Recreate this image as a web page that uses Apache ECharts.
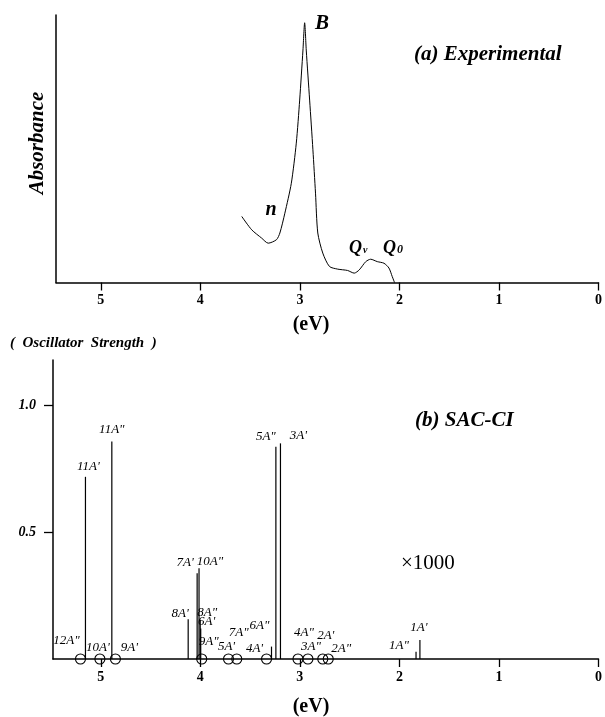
<!DOCTYPE html>
<html>
<head>
<meta charset="utf-8">
<script src="https://cdn.jsdelivr.net/npm/echarts@6/dist/echarts.min.js"></script>
<style>
    html, body { margin: 0; padding: 0; background: #fff; }
    #chart { width: 605px; height: 717px; }
</style>
</head>
<body>
<div id="chart"></div>
<script>
    // (a) experimental absorption curve, eV vs absorbance (arbitrary units)
    var absEV = [3.584, 3.484, 3.384, 3.318, 3.235, 3.201, 3.151, 3.086, 3.036, 3.002,
                 2.969, 2.952, 2.936, 2.902, 2.869, 2.843, 2.820, 2.770, 2.703, 2.620,
                 2.521, 2.454, 2.404, 2.338, 2.289, 2.222, 2.155, 2.105, 2.072, 2.049];
    var absVal = [0.247, 0.197, 0.166, 0.147, 0.160, 0.185, 0.259, 0.371, 0.521, 0.682,
                  0.869, 0.971, 0.869, 0.682, 0.496, 0.334, 0.185, 0.110, 0.060, 0.050,
                  0.045, 0.035, 0.047, 0.078, 0.087, 0.078, 0.072, 0.054, 0.022, 0.000];

    // (b) SAC-CI states with visible oscillator strength
    var stickNames = ["11A'", '11A"', "8A'", "7A'", '10A"', '8A"', "6A'", '6A"', '5A"', "3A'", '1A"', "1A'"];
    var stickEV = [5.154, 4.889, 4.122, 4.032, 4.013, 4.001, 3.996, 3.285, 3.241, 3.195, 1.833, 1.794];
    var stickF = [0.719, 0.858, 0.157, 0.338, 0.358, 0.155, 0.120, 0.049, 0.838, 0.851, 0.029, 0.075];

    // states drawn as circles on the baseline
    var circleNames = ['12A"', "10A'", "9A'", '9A"', "5A'", '7A"', "4A'", '4A"', '3A"', "2A'", '2A"'];
    var circleEV = [5.204, 5.009, 4.853, 3.986, 3.717, 3.634, 3.335, 3.019, 2.919, 2.770, 2.715];

    var xTicks = [0, 1, 2, 3, 4, 5];
    var fTicks = [0.5, 1.0];

    // label placement (pixels from the mark)
    var labelOffsets = {
        "11A'": [3, -10], '11A"': [0, -12], "8A'": [-8, -6], "7A'": [-12, -11],
        '10A"': [11, -7], '8A"': [7, -7], "6A'": [6, -7], '6A"': [-12, -21],
        '5A"': [-10, -10], "3A'": [18, -8], '1A"': [-17, -6], "1A'": [-1, -12],
        '12A"': [-14, -18], "10A'": [-2, -11], "9A'": [14, -11], '9A"': [7, -17],
        "5A'": [-2, -12], '7A"': [2, -26], "4A'": [-12, -10], '4A"': [6, -26],
        '3A"': [3, -12], "2A'": [3, -23], '2A"': [13, -10]
    };

    var serif = '"Liberation Serif", "Times New Roman", serif';

    var curveData = absEV.map(function (e, i) { return [e, absVal[i]]; });
    var stickData = stickEV.map(function (e, i) { return [e, stickF[i]]; });
    var circleData = circleEV.map(function (e, i) { return [e, 0]; });

    function xAxisOf(grid, max) {
        return {
            gridIndex: grid,
            type: 'value',
            min: 0,
            max: max,
            inverse: true,
            interval: 1,
            axisLine: { onZero: false, lineStyle: { color: '#000', width: 1.5 } },
            axisTick: { customValues: xTicks, length: 8, lineStyle: { color: '#000', width: 1.3 } },
            axisLabel: {
                customValues: xTicks,
                margin: 11,
                color: '#000',
                fontFamily: serif,
                fontWeight: 'bold',
                fontSize: 14
            },
            splitLine: { show: false }
        };
    }

    function labelText(name, x, y) {
        var off = labelOffsets[name];
        return {
            type: 'text',
            x: x + off[0],
            y: y + off[1],
            z2: 20,
            style: {
                text: name,
                font: 'italic 13px ' + serif,
                fill: '#000',
                align: 'center',
                verticalAlign: 'middle'
            }
        };
    }

    var myChart = echarts.init(document.getElementById('chart'));
    var options = {
        backgroundColor: '#fff',
        animation: false,
        grid: [
            { left: 56, right: 2, top: 15, height: 267.5 },
            { left: 53, right: 2, top: 360, height: 299 }
        ],
        xAxis: [xAxisOf(0, 5.45), xAxisOf(1, 5.48)],
        yAxis: [{
            gridIndex: 0,
            type: 'value',
            position: 'left',
            min: 0,
            max: 1,
            axisLine: { show: true, onZero: false, lineStyle: { color: '#000', width: 1.5 } },
            axisTick: { show: false },
            axisLabel: { show: false },
            splitLine: { show: false }
        }, {
            gridIndex: 1,
            type: 'value',
            position: 'left',
            min: 0,
            max: 1.18,
            interval: 0.5,
            axisLine: { show: true, onZero: false, lineStyle: { color: '#000', width: 1.5 } },
            axisTick: { customValues: fTicks, length: 9, lineStyle: { color: '#000', width: 1.3 } },
            axisLabel: {
                customValues: fTicks,
                formatter: function (v) { return v.toFixed(1); },
                margin: 17,
                color: '#000',
                fontFamily: serif,
                fontWeight: 'bold',
                fontStyle: 'italic',
                fontSize: 14
            },
            splitLine: { show: false }
        }],
        series: [{
            name: 'Absorbance',
            type: 'line',
            xAxisIndex: 0,
            yAxisIndex: 0,
            data: curveData,
            smooth: 0.25,
            showSymbol: false,
            lineStyle: { color: '#000', width: 1 }
        }, {
            name: 'SAC-CI',
            type: 'custom',
            xAxisIndex: 1,
            yAxisIndex: 1,
            data: stickData,
            renderItem: function (params, api) {
                var bottom = api.coord([api.value(0), 0]);
                var top = api.coord([api.value(0), api.value(1)]);
                return {
                    type: 'group',
                    children: [{
                        type: 'line',
                        shape: { x1: bottom[0], y1: bottom[1], x2: top[0], y2: top[1] },
                        style: { stroke: '#000', lineWidth: 1.2 }
                    }, labelText(stickNames[params.dataIndex], top[0], top[1])]
                };
            }
        }, {
            name: 'weak',
            type: 'custom',
            xAxisIndex: 1,
            yAxisIndex: 1,
            data: circleData,
            z: 3,
            renderItem: function (params, api) {
                var c = api.coord([api.value(0), api.value(1)]);
                return {
                    type: 'group',
                    children: [{
                        type: 'circle',
                        shape: { cx: c[0], cy: c[1], r: 5 },
                        style: { fill: 'none', stroke: '#000', lineWidth: 1.1 }
                    }, labelText(circleNames[params.dataIndex], c[0], c[1])]
                };
            }
        }],
        graphic: [
            {
                type: 'text', x: 38, y: 143, rotation: Math.PI / 2,
                style: { text: 'Absorbance', font: 'italic bold 21px ' + serif, fill: '#000', align: 'center', verticalAlign: 'middle' }
            },
            {
                type: 'text', x: 414, y: 55,
                style: { text: '(a) Experimental', font: 'italic bold 21px ' + serif, fill: '#000', align: 'left', verticalAlign: 'middle' }
            },
            {
                type: 'text', x: 322, y: 24,
                style: { text: 'B', font: 'italic bold 21px ' + serif, fill: '#000', align: 'center', verticalAlign: 'middle' }
            },
            {
                type: 'text', x: 271, y: 210,
                style: { text: 'n', font: 'italic bold 20px ' + serif, fill: '#000', align: 'center', verticalAlign: 'middle' }
            },
            {
                type: 'text', x: 349, y: 248,
                style: {
                    text: '{q|Q}{s|v}', align: 'left', verticalAlign: 'middle',
                    rich: {
                        q: { font: 'italic bold 18px ' + serif, fill: '#000' },
                        s: { font: 'italic bold 10px ' + serif, fill: '#000', padding: [5, 0, 0, 1] }
                    }
                }
            },
            {
                type: 'text', x: 383, y: 248,
                style: {
                    text: '{q|Q}{s|0}', align: 'left', verticalAlign: 'middle',
                    rich: {
                        q: { font: 'italic bold 18px ' + serif, fill: '#000' },
                        s: { font: 'italic bold 12px ' + serif, fill: '#000', padding: [3, 0, 0, 1] }
                    }
                }
            },
            {
                type: 'text', x: 311, y: 325,
                style: { text: '(eV)', font: 'bold 20px ' + serif, fill: '#000', align: 'center', verticalAlign: 'middle' }
            },
            {
                type: 'text', x: 10, y: 343,
                style: { text: '(  Oscillator  Strength  )', font: 'italic bold 15px ' + serif, fill: '#000', align: 'left', verticalAlign: 'middle' }
            },
            {
                type: 'text', x: 415, y: 421,
                style: { text: '(b) SAC-CI', font: 'italic bold 21px ' + serif, fill: '#000', align: 'left', verticalAlign: 'middle' }
            },
            {
                type: 'text', x: 401, y: 563,
                style: { text: '\u00d71000', font: '21px ' + serif, fill: '#000', align: 'left', verticalAlign: 'middle' }
            },
            {
                type: 'text', x: 311, y: 707,
                style: { text: '(eV)', font: 'bold 20px ' + serif, fill: '#000', align: 'center', verticalAlign: 'middle' }
            }
        ]
    };
    myChart.setOption(options);
</script>
</body>
</html>
